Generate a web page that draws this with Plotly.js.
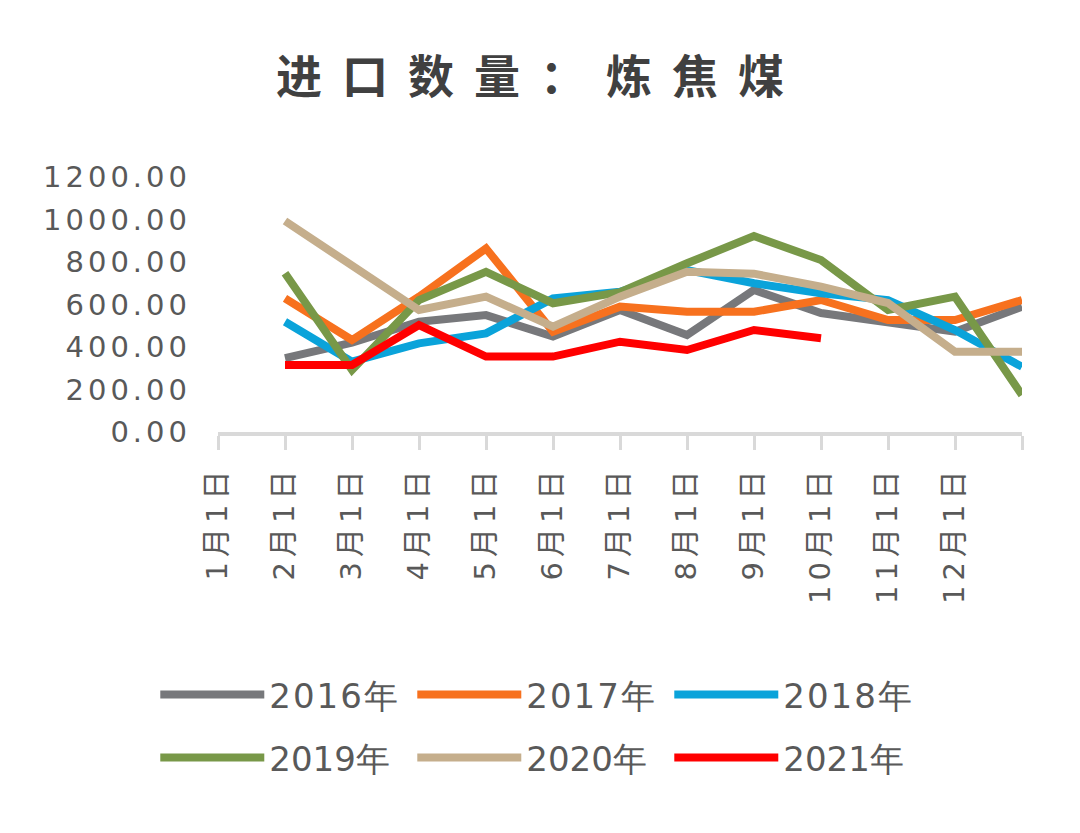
<!DOCTYPE html>
<html>
<head>
<meta charset="utf-8">
<script src="https://cdn.plot.ly/plotly-3.0.1.min.js"></script>
<style>
  html, body { margin: 0; padding: 0; background: #fff; }
  #chart { width: 1080px; height: 833px; }
  .gtitle { letter-spacing: 20px; }
  .ytick text { letter-spacing: 4px; }
  .xtick text { letter-spacing: 5px; }
  .legendtext { letter-spacing: 2px; }
</style>
</head>
<body>
<div id="chart"></div>
<script>
// Tick labels (last tick is unlabeled end of axis)
const tickLabels = ["1月1日","2月1日","3月1日","4月1日","5月1日","6月1日","7月1日","8月1日","9月1日","10月1日","11月1日","12月1日",""];
const seriesNames = ["2016年","2017年","2018年","2019年","2020年","2021年"];
// Monthly values (Jan..Dec), plotted from the 2月1日 tick onward
const v2016 = [348, 420, 519, 550, 449, 574, 456, 668, 560, 513, 472, 590];
const v2017 = [629, 433, 637, 864, 472, 590, 566, 566, 621, 527, 527, 621];
const v2018 = [519, 331, 417, 464, 629, 660, 762, 700, 653, 621, 480, 307];
const v2019 = [747, 292, 621, 754, 606, 658, 794, 922, 809, 574, 637, 174];
const v2020 = [993, 782, 574, 637, 496, 637, 754, 745, 684, 607, 378, 378];
const v2021 = [315, 315, 503, 355, 355, 425, 386, 480, 441];
const colors = ["#77787B", "#F7711E", "#0AA3DA", "#789848", "#C5AE8C", "#FF0000"];

const allValues = [v2016, v2017, v2018, v2019, v2020, v2021];
const traces = allValues.map((vals, i) => ({
  type: "scatter",
  mode: "lines",
  name: seriesNames[i],
  legend: i < 3 ? "legend" : "legend2",
  x: vals.map((_, k) => k + 1),
  y: vals,
  line: { color: colors[i], width: 8 }
}));

const legendCommon = {
  orientation: "h",
  x: -0.078, xanchor: "left",
  yanchor: "middle",
  entrywidth: 138,
  entrywidthmode: "pixels",
  itemwidth: 104,
  font: { family: "DejaVu Sans", size: 34, color: "#595959" },
  bgcolor: "rgba(0,0,0,0)"
};

const layout = {
  width: 1080,
  height: 833,
  paper_bgcolor: "#ffffff",
  plot_bgcolor: "#ffffff",
  margin: { l: 218, r: 58, t: 177, b: 401 },
  title: {
    text: "<b>进口数量：炼焦煤</b>",
    font: { family: "Noto Sans CJK SC", size: 46, color: "#404040", weight: 900 },
    x: 0.5, xanchor: "center",
    y: 1 - 77 / 833, yref: "container", yanchor: "middle"
  },
  xaxis: {
    range: [0, 12],
    tickmode: "array",
    tickvals: tickLabels.map((_, i) => i),
    ticktext: tickLabels,
    tickangle: -90,
    ticks: "outside",
    ticklen: 14,
    tickwidth: 3,
    tickcolor: "#D9D9D9",
    showline: true,
    linecolor: "#D9D9D9",
    linewidth: 4,
    showgrid: false,
    zeroline: false,
    ticklabelstandoff: 4,
    tickfont: { family: "DejaVu Sans, Noto Sans CJK SC", size: 29, color: "#595959" },
    fixedrange: true
  },
  yaxis: {
    range: [0, 1200],
    tickmode: "linear",
    tick0: 0,
    dtick: 200,
    tickformat: ".2f",
    showline: false,
    showgrid: false,
    zeroline: false,
    ticks: "",
    ticklabelstandoff: 26,
    tickfont: { family: "DejaVu Sans", size: 29, color: "#595959" },
    fixedrange: true
  },
  showlegend: true,
  legend: Object.assign({}, legendCommon, { y: (432 - 695) / 255 }),
  legend2: Object.assign({}, legendCommon, { y: (432 - 758) / 255 }),
  hovermode: false
};

Plotly.newPlot("chart", traces, layout, { displayModeBar: false, staticPlot: true });
</script>
</body>
</html>
